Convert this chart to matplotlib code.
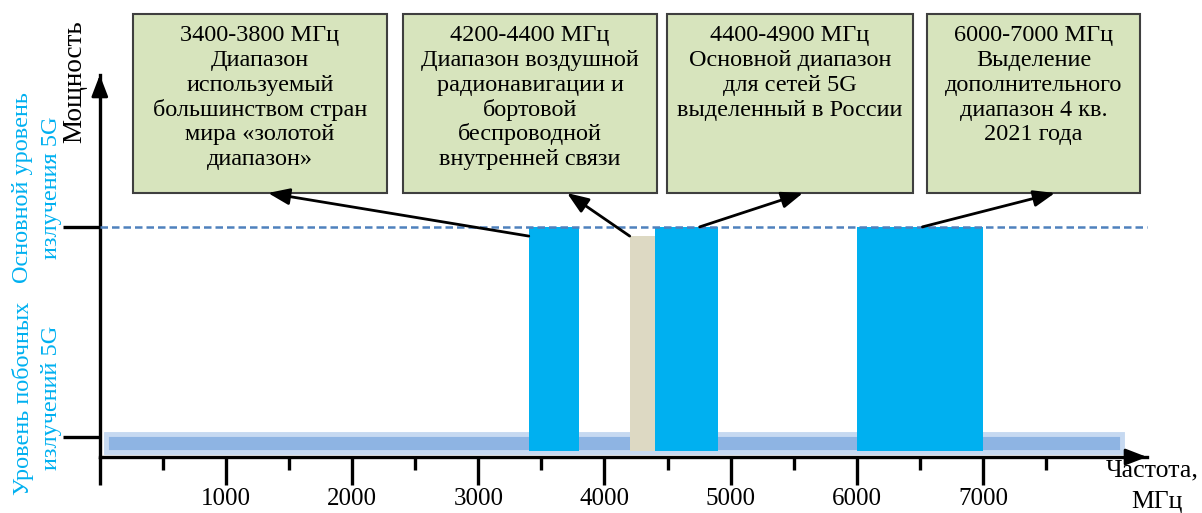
import matplotlib
matplotlib.use("Agg")
import matplotlib.pyplot as plt
from matplotlib.patches import Rectangle

plt.rcParams['font.family'] = ['Liberation Serif', 'DejaVu Serif']

# Frequency bands (MHz) and their relative power
band_lo = [3400, 4200, 4400, 6000]
band_hi = [3800, 4400, 4900, 7000]
band_level = [1.0, 0.96, 1.0, 1.0]
band_color = ['#00b0f0', '#ddd9c3', '#00b0f0', '#00b0f0']
band_notes = [
    ["Диапазон", "используемый", "большинством стран", "мира «золотой", "диапазон»"],
    ["Диапазон воздушной", "радионавигации и", "бортовой", "беспроводной", "внутренней связи"],
    ["Основной диапазон", "для сетей 5G", "выделенный в России"],
    ["Выделение", "дополнительного", "диапазон 4 кв.", "2021 года"],
]

main_level = 1.0      # main 5G emission level
spur_level = 0.087    # spurious emission level
spur_span = (50, 8100)

major_ticks = [0, 1000, 2000, 3000, 4000, 5000, 6000, 7000]
major_labels = ['', '1000', '2000', '3000', '4000', '5000', '6000', '7000']
minor_ticks = [500, 1500, 2500, 3500, 4500, 5500, 6500, 7500]

W, H = 1202, 513
fig = plt.figure(figsize=(W / 100, H / 100), dpi=100)

# main plotting area
ax_l, ax_r, ax_b, ax_t = 99.8, 1147, 457, 75
ax = fig.add_axes([ax_l / W, 1 - ax_b / H, (ax_r - ax_l) / W, (ax_b - ax_t) / H])
ax.set_xlim(0, 8300)
ax.set_ylim(0, 1.66)
ax.patch.set_visible(False)
for s in ('top', 'right'):
    ax.spines[s].set_visible(False)
for s in ('left', 'bottom'):
    ax.spines[s].set_linewidth(2.4)
    ax.spines[s].set_color('black')

ax.set_xticks(major_ticks, major_labels)
ax.set_xticks(minor_ticks, minor=True)
ax.tick_params(axis='x', which='major', length=20, width=2.4, direction='out',
               pad=2, labelsize=18)
ax.tick_params(axis='x', which='minor', length=9.5, width=2.4, direction='out')
ax.set_yticks([spur_level, main_level], ['', ''])
ax.tick_params(axis='y', length=27, width=2.4, direction='out')

# axis arrowheads
head = dict(arrowstyle='-|>,head_length=1.3,head_width=0.5', color='black',
            lw=2, shrinkA=0, shrinkB=0, mutation_scale=10)
ax.annotate('', xy=(1.0, 0), xytext=(0.98, 0), xycoords='axes fraction',
            arrowprops=head, annotation_clip=False)
ax.annotate('', xy=(0, 1.0), xytext=(0, 0.95), xycoords='axes fraction',
            arrowprops=head, annotation_clip=False)

# spurious emission band
ax.add_patch(Rectangle((spur_span[0], 0.02), spur_span[1] - spur_span[0],
                       spur_level + 0.011 - 0.02, facecolor='#8eb4e3',
                       edgecolor='#c6d9f1', lw=3.5, zorder=1))

# allocated bands
bar_bottom = 0.026
widths = [h - l for l, h in zip(band_lo, band_hi)]
heights = [lv - bar_bottom for lv in band_level]
ax.bar(band_lo, heights, width=widths, bottom=bar_bottom, align='edge',
       color=band_color, lw=0, zorder=3)

# main emission level
ax.plot([0, 8300], [main_level, main_level], color='#4f81bd', lw=1.8,
        ls=(0, (3, 1.6)), zorder=4, clip_on=False)

# overlay in pixel units for the annotation boxes and side labels
ov = fig.add_axes([0, 0, 1, 1])
ov.set_xlim(0, W)
ov.set_ylim(H, 0)
ov.axis('off')

box_left = [133, 403, 667, 927]
box_right = [387, 657, 913, 1140]
box_top, box_bottom = 14, 193
first_baseline, pitch = 41.5, 24.7
head_x = [268, 567, 803, 1055]
tail_frac = [0.0, 0.0, 0.71, 0.52]
tail_drop = [0.04, 0.0, 0.0, 0.0]

for i in range(len(band_lo)):
    x0, x1 = box_left[i], box_right[i]
    ov.add_patch(Rectangle((x0, box_top), x1 - x0, box_bottom - box_top,
                           facecolor='#d7e4bd', edgecolor='#3f3f3f', lw=1.5,
                           zorder=2))
    lines = [f"{band_lo[i]}-{band_hi[i]} МГц"] + band_notes[i]
    cx = (x0 + x1) / 2
    for k, line in enumerate(lines):
        ov.text(cx, first_baseline + pitch * k, line, ha='center',
                va='baseline', fontsize=17.5, color='black', zorder=3)
    tx = band_lo[i] + tail_frac[i] * widths[i]
    ty = band_level[i] - tail_drop[i]
    ov.annotate('', xy=(head_x[i], box_bottom), xycoords='data',
                xytext=(tx, ty), textcoords=ax.transData,
                arrowprops=dict(arrowstyle='-|>,head_length=1.3,head_width=0.5',
                                color='black', lw=2.0, shrinkA=0, shrinkB=0,
                                mutation_scale=10),
                zorder=5)

# axis titles
ov.text(75, 82, "Мощность", rotation=90, ha='center', va='center',
        fontsize=19.5, color='black')
ov.text(37, 188, "Основной уровень\nизлучения 5G", rotation=90, ha='center',
        va='center', multialignment='center', fontsize=17.5, color='#00b0f0',
        linespacing=1.45)
ov.text(37, 398, "Уровень побочных\nизлучений 5G", rotation=90, ha='center',
        va='center', multialignment='center', fontsize=17.5, color='#00b0f0',
        linespacing=1.45)
ov.text(1152, 470, "Частота,", ha='center', va='center', fontsize=18.5)
ov.text(1157, 502, "МГц", ha='center', va='center', fontsize=18.5)

fig.savefig("out.png", dpi=100)
